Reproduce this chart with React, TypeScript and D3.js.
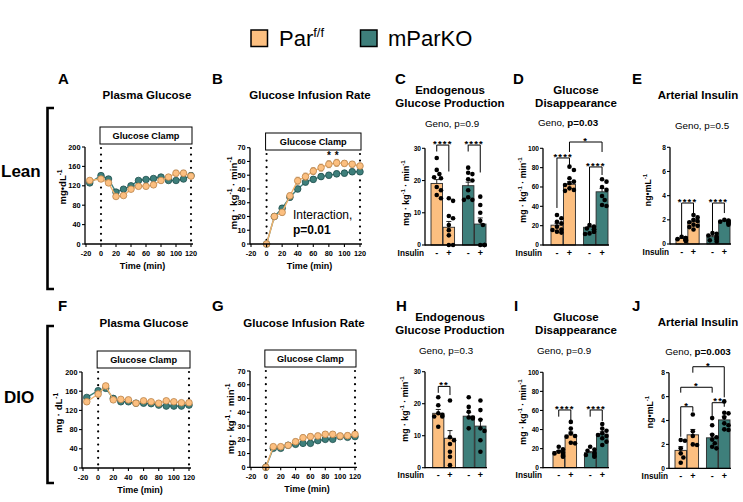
import React from 'react';
import { scaleLinear, scaleBand, line } from 'd3';

const PAR = '#FCBF80';
const KO = '#3E7F7B';
const PAR_EDGE = '#B9844B';
const KO_EDGE = '#1F4F4C';
const FONT = "'Liberation Sans', Arial, Helvetica, sans-serif";

// ---------- clamp time courses ----------
const glucoseTime = [-15, 0, 10, 20, 30, 40, 50, 60, 70, 80, 90, 100, 110, 120];
const leanGlucosePar = [131, 134, 126, 98, 100, 113, 119, 119, 122, 131, 138, 146, 146, 140];
const leanGlucoseParSem = [5, 4, 5, 4, 4, 4, 5, 5, 4, 5, 5, 6, 6, 5];
const leanGlucoseKO = [126, 141, 134, 107, 113, 120, 131, 133, 135, 138, 131, 131, 134, 141];
const leanGlucoseKOSem = [4, 4, 5, 4, 4, 4, 3, 4, 4, 4, 4, 4, 4, 5];
const dioGlucosePar = [138, 154, 171, 142, 143, 142, 135, 140, 138, 135, 140, 138, 136, 136];
const dioGlucoseParSem = [5, 6, 5, 4, 4, 5, 4, 4, 4, 4, 4, 4, 4, 4];
const dioGlucoseKO = [147, 161, 166, 145, 138, 138, 135, 135, 134, 131, 129, 129, 129, 131];
const dioGlucoseKOSem = [4, 5, 5, 4, 3, 3, 3, 3, 3, 3, 3, 3, 3, 3];

const girTime = [0, 10, 20, 30, 40, 50, 60, 70, 80, 90, 100, 110, 120];
const leanGirPar = [0, 20, 23, 35, 46, 49, 53, 55.5, 58, 59, 58.6, 58, 56.7];
const leanGirParSem = [0, 1.5, 2, 2, 2.5, 2.5, 2.5, 2.5, 2.5, 2.5, 2, 2, 2];
const leanGirKO = [0, 20, 26, 34, 40, 45, 47, 49, 50, 51, 51.5, 52.5, 52.5];
const leanGirKOSem = [0, 1.5, 2, 2, 2, 2, 2, 2, 2, 2, 2, 2, 2];
const dioGirPar = [0, 15, 15, 16, 18.6, 21.5, 22.3, 22.8, 24, 24, 22.8, 23, 24];
const dioGirParSem = [0, 1.5, 1.5, 1.5, 2, 2, 2, 2, 2, 2, 2, 2, 2];
const dioGirKO = [0, 13.8, 13.8, 16, 16.7, 17.4, 17.4, 19.4, 20.3, 20.3, 22.3, 21.8, 22.3];
const dioGirKOSem = [0, 1.5, 1.5, 1.5, 1.5, 1.5, 1.5, 1.5, 1.5, 1.5, 1.5, 1.5, 1.5];
const leanGirStars = [80, 90]; // time points marked *

const timeTicks = [-20, 0, 20, 40, 60, 80, 100, 120];
const glucoseTicks = [0, 40, 80, 120, 160, 200];
const girTicks = [0, 10, 20, 30, 40, 50, 60, 70];

// ---------- bar panels: order Par -, Par +, mParKO -, mParKO + ----------
const insulinSigns = ['-', '+', '-', '+'];

const leanEgpMean = [19.1, 5.5, 18.4, 6.5];
const leanEgpSem = [1.2, 1.8, 1.1, 1.9];
const leanEgpDots = [
  [27, 23.3, 22, 21, 20.7, 18, 17, 15.5, 14.5],
  [14.5, 13.7, 9, 8.3, 6.2, 4.6, 3, 0, 0],
  [24, 22.4, 22, 20.4, 20, 17, 14.8, 14, 14],
  [15, 12.4, 10, 7.5, 6.2, 0, 0, 0, 0],
];
const leanEgpSig = [
  { a: 0, b: 1, y: 31, ya: 29, yb: 22.8, t: '****' },
  { a: 2, b: 3, y: 31, ya: 29, yb: 22.5, t: '****' },
];

const leanRdMean = [20.5, 62.8, 18.3, 55];
const leanRdSem = [2, 2.6, 1, 3.5];
const leanRdDots = [
  [31, 27.6, 24, 22.4, 19, 16, 15.5, 13.8, 12.8],
  [81, 77.6, 69, 65.5, 63.8, 62, 58.6, 57, 56],
  [20.7, 19, 17, 16, 16, 13.8, 13.8, 12, 11.4],
  [68, 65.5, 60, 57, 50.7, 46.6, 41.4, 40.3],
];
const leanRdSig = [
  { a: 0, b: 1, y: 90, ya: 38.3, yb: 82.7, t: '****' },
  { a: 2, b: 3, y: 80.7, ya: 22.7, yb: 72.4, t: '****' },
  { a: 1, b: 3, y: 106.5, ya: 96.2, yb: 96.2, t: '*' },
];

const leanInsMean = [0.45, 1.85, 0.6, 1.9];
const leanInsSem = [0.04, 0.13, 0.09, 0.05];
const leanInsDots = [
  [0.6, 0.5, 0.5, 0.4, 0.4, 0.35, 0.3, 0.3, 0.25],
  [2.4, 2.2, 2.0, 1.9, 1.8, 1.6, 1.5, 1.4, 1.2],
  [0.9, 0.85, 0.7, 0.6, 0.5, 0.4, 0.3, 0.2],
  [2.0, 1.95, 1.9, 1.85, 1.8, 1.7, 1.6],
];
const leanInsSig = [
  { a: 0, b: 1, y: 3.39, ya: 0.6, yb: 2.56, t: '****' },
  { a: 2, b: 3, y: 3.39, ya: 1.0, yb: 2.56, t: '****' },
];

const dioEgpMean = [17, 9.2, 16.1, 13];
const dioEgpSem = [1.2, 2.4, 1.2, 2.1];
const dioEgpDots = [
  [22, 19.5, 17, 16.5, 16, 16, 12.8],
  [21, 9.5, 8.6, 7.4, 5, 3.4, 0.8],
  [22, 19, 17.5, 15.7, 15.7, 15.4, 12.3],
  [21, 18, 15, 12.3, 11.5, 8.6, 5],
];
const dioEgpSig = [{ a: 0, b: 1, y: 25.4, ya: 23.4, yb: 22.7, t: '**' }];

const dioRdMean = [16.8, 34.3, 15.7, 35.3];
const dioRdSem = [1.2, 3, 1.1, 2.3];
const dioRdDots = [
  [22, 19.2, 16.8, 15.7, 15, 13.3, 12.2, 11.5],
  [48, 41, 36, 33.2, 32.5, 26.2, 25.5],
  [22, 19, 17.8, 15.7, 14.3, 13.3, 12.2, 11.5],
  [45.8, 41, 38.8, 36, 34.3, 33.2, 30.8, 27.3, 23.8],
];
const dioRdSig = [
  { a: 0, b: 1, y: 60.5, ya: 53.5, yb: 50, t: '****' },
  { a: 2, b: 3, y: 60.5, ya: 53.5, yb: 49, t: '****' },
];

const dioInsMean = [1.5, 2.8, 2.55, 4.05];
const dioInsSem = [0.3, 0.45, 0.3, 0.3];
const dioInsDots = [
  [2.37, 2.3, 1.67, 1.25, 0.9, 0.47],
  [4.5, 3.1, 2.7, 2.0, 1.95],
  [4.2, 3.6, 2.8, 2.6, 2.4, 2.1, 1.8, 1.67],
  [5.6, 4.65, 4.6, 4.26, 3.76, 3.6, 3.26, 3.2],
];
const dioInsSig = [
  { a: 0, b: 1, y: 5.15, ya: 2.64, yb: 4.74, t: '*' },
  { a: 2, b: 3, y: 5.49, ya: 4.38, yb: 5.15, t: '**' },
  { a: 0, b: 2, y: 6.78, ya: 6.33, yb: 6.33, t: '*' },
  { a: 1, b: 3, y: 8.5, ya: 8.0, yb: 5.94, t: '*' },
];

const egpTicks = [0, 10, 20, 30];
const rdTicks = [0, 20, 40, 60, 80, 100];
const insTicks = [0, 2, 4, 6, 8];

type Seg = { t: string; sup?: boolean; bold?: boolean };

const unitGlcLean: Seg[] = [{ t: 'mg•dL' }, { t: '-1', sup: true }];
const unitGlcDio: Seg[] = [{ t: 'mg · dL' }, { t: '-1', sup: true }];
const unitRate: Seg[] = [{ t: 'mg · kg' }, { t: '-1', sup: true }, { t: ' · min' }, { t: '-1', sup: true }];
const unitIns: Seg[] = [{ t: 'ng•mL' }, { t: '-1', sup: true }];

const Rich = ({ segs, size }: { segs: Seg[]; size: number }) => {
  let up = false;
  return (
    <>
      {segs.map((s, i) => {
        let dy = 0;
        if (s.sup && !up) {
          dy = -size * 0.42;
          up = true;
        } else if (!s.sup && up) {
          dy = size * 0.42;
          up = false;
        }
        return (
          <tspan key={i} dy={dy || undefined} fontSize={s.sup ? size * 0.68 : size} fontWeight={s.bold ? 700 : undefined}>
            {s.t}
          </tspan>
        );
      })}
    </>
  );
};

const YLabel = ({ x, cy, segs, size }: any) => (
  <text
    transform={`translate(${x + size * 0.36},${cy}) rotate(-90)`}
    textAnchor="middle"
    fontWeight={700}
    fontSize={size}
    fontFamily={FONT}
  >
    <Rich segs={segs} size={size} />
  </text>
);

// spread dots sideways so they do not sit on top of each other
function swarm(values: number[], y: (v: number) => number, cx: number, r: number, maxOff: number) {
  const placed: { x: number; y: number }[] = [];
  const out: { x: number; y: number }[] = new Array(values.length);
  const order = values.map((v, i) => ({ v, i })).sort((p, q) => q.v - p.v);
  for (const { v, i } of order) {
    const py = y(v);
    let px = cx;
    for (let n = 0; n < 12; n++) {
      const off = n === 0 ? 0 : Math.ceil(n / 2) * r * 1.15 * (n % 2 ? 1 : -1);
      const cand = cx + Math.max(-maxOff, Math.min(maxOff, off));
      px = cand;
      if (placed.every((p) => Math.hypot(p.x - cand, p.y - py) >= r * 1.9)) break;
    }
    placed.push({ x: px, y: py });
    out[i] = { x: px, y: py };
  }
  return out;
}

const LinePanel = (p: any) => {
  const x = scaleLinear().domain([-20, 120]).range(p.xr);
  const y = scaleLinear().domain([0, p.yMax]).range(p.yr);
  const ax = x(-20) - 1;
  const yb = y(0);
  const boxX0 = x(0) - 1;
  const boxX1 = x(120) + 1;
  return (
    <g fontFamily={FONT}>
      <text x={p.letterX} y={p.letterY} fontSize={15} fontWeight={700}>{p.letter}</text>
      <text x={p.titleCx} y={p.titleY} fontSize={11.5} fontWeight={700} textAnchor="middle">{p.title}</text>
      <rect x={boxX0} y={p.boxY} width={boxX1 - boxX0} height={17} fill="#fff" stroke="#000" strokeWidth={1} />
      <text x={(boxX0 + boxX1) / 2} y={p.boxY + 12} fontSize={9.2} fontWeight={700} textAnchor="middle">Glucose Clamp</text>
      {[0, 120].map((t) => (
        <line key={t} x1={x(t)} x2={x(t)} y1={p.boxY + 21} y2={yb} stroke="#000" strokeWidth={2.2} strokeDasharray="0 6.6" strokeLinecap="round" />
      ))}
      {p.series.map((s: any, si: number) => {
        const path = line<number>()
          .x((_, i) => x(s.time[i]))
          .y((d) => y(d))(s.values);
        return (
          <g key={si}>
            <path d={path || ''} fill="none" stroke={s.lineColor} strokeWidth={1.4} />
            {s.values.map((v: number, i: number) => (
              <g key={i} stroke={s.edge} strokeWidth={0.8}>
                <line x1={x(s.time[i])} x2={x(s.time[i])} y1={y(v - s.sem[i])} y2={y(v + s.sem[i])} />
                <line x1={x(s.time[i]) - 2} x2={x(s.time[i]) + 2} y1={y(v + s.sem[i])} y2={y(v + s.sem[i])} />
                <line x1={x(s.time[i]) - 2} x2={x(s.time[i]) + 2} y1={y(v - s.sem[i])} y2={y(v - s.sem[i])} />
              </g>
            ))}
            {s.values.map((v: number, i: number) => (
              <circle key={'c' + i} cx={x(s.time[i])} cy={y(v)} r={3.3} fill={s.fill} stroke={s.edge} strokeWidth={0.8} />
            ))}
          </g>
        );
      })}
      {(p.stars || []).map((t: number) => (
        <text key={'st' + t} x={x(t)} y={p.starY} fontSize={10} fontWeight={700} textAnchor="middle">*</text>
      ))}
      {/* axes */}
      <line x1={ax} x2={ax} y1={yb + 0.6} y2={y(p.yMax)} stroke="#000" strokeWidth={1.3} />
      {p.yTicks.map((t: number) => (
        <g key={t}>
          <line x1={ax - 3} x2={ax} y1={y(t)} y2={y(t)} stroke="#000" strokeWidth={1.1} />
          <text x={ax - 4.5} y={y(t) + 2.6} fontSize={7.3} fontWeight={700} textAnchor="end">{t}</text>
        </g>
      ))}
      <line x1={ax} x2={x(120) + 2} y1={yb} y2={yb} stroke="#000" strokeWidth={1.3} />
      {timeTicks.map((t) => (
        <g key={t}>
          <line x1={x(t)} x2={x(t)} y1={yb} y2={yb + 3} stroke="#000" strokeWidth={1.1} />
          <text x={x(t)} y={yb + 11.5} fontSize={7.3} fontWeight={700} textAnchor="middle">{t}</text>
        </g>
      ))}
      <text x={(x(-20) + x(120)) / 2 + 4} y={yb + 25} fontSize={9} fontWeight={700} textAnchor="middle">Time (min)</text>
      <YLabel x={p.ylx} cy={p.lyc} segs={p.unit} size={p.unitSize} />
      {p.children}
    </g>
  );
};

const BarPanel = (p: any) => {
  const y = scaleLinear().domain([0, p.yMax]).range(p.yr);
  const outer = scaleBand<number>().domain([0, 1]).range(p.br).paddingInner(0.25);
  const inner = scaleBand<number>().domain([0, 1]).range([0, outer.bandwidth()]).paddingInner(0.05);
  const bx = (i: number) => (outer(i >> 1) as number) + (inner(i & 1) as number);
  const bw = inner.bandwidth();
  const cx = (i: number) => bx(i) + bw / 2;
  const colors = [PAR, PAR, KO, KO];
  const yb = y(0);
  const ax = p.axisX;
  return (
    <g fontFamily={FONT}>
      <text x={p.letterX} y={p.letterY} fontSize={15} fontWeight={700}>{p.letter}</text>
      {p.title.map((t: string, i: number) => (
        <text key={i} x={p.titleCx} y={p.titleY + i * 13} fontSize={11.5} fontWeight={700} textAnchor="middle">{t}</text>
      ))}
      <text x={p.genoCx} y={p.genoY} fontSize={9.8} textAnchor="middle">
        <Rich segs={p.geno} size={9.8} />
      </text>
      {p.mean.map((m: number, i: number) => (
        <rect key={i} x={bx(i)} y={y(m)} width={bw} height={yb - y(m)} fill={colors[i]} stroke="#2a2a2a" strokeWidth={0.9} />
      ))}
      {p.mean.map((m: number, i: number) => (
        <g key={'e' + i} stroke="#111" strokeWidth={0.9}>
          <line x1={cx(i)} x2={cx(i)} y1={y(m)} y2={y(m + p.sem[i])} />
          <line x1={cx(i) - 2.5} x2={cx(i) + 2.5} y1={y(m + p.sem[i])} y2={y(m + p.sem[i])} />
        </g>
      ))}
      {p.dots.map((vals: number[], i: number) =>
        swarm(vals, (v) => y(v), cx(i), 2.3, bw / 2 - 1.5).map((d, k) => (
          <circle key={i + '-' + k} cx={d.x} cy={d.y} r={2.3} fill="#000" />
        ))
      )}
      <line x1={ax} x2={ax} y1={yb + 0.6} y2={y(p.yMax)} stroke="#000" strokeWidth={1.3} />
      {p.yTicks.map((t: number) => (
        <g key={t}>
          <line x1={ax - 3} x2={ax} y1={y(t)} y2={y(t)} stroke="#000" strokeWidth={1.1} />
          <text x={ax - 4} y={y(t) + 2.3} fontSize={6.6} fontWeight={700} textAnchor="end">{t}</text>
        </g>
      ))}
      <line x1={ax} x2={p.br[1] + 1} y1={yb} y2={yb} stroke="#000" strokeWidth={1.3} />
      <text x={ax - 1} y={yb + 10.5} fontSize={8.2} fontWeight={700} textAnchor="end">Insulin</text>
      {insulinSigns.map((s, i) => (
        <text key={i} x={cx(i)} y={yb + 10.5} fontSize={9} fontWeight={700} textAnchor="middle">{s}</text>
      ))}
      {p.sig.map((s: any, i: number) => (
        <g key={'s' + i}>
          <path
            d={`M${cx(s.a)},${y(s.ya)}V${y(s.y)}H${cx(s.b)}V${y(s.yb)}`}
            fill="none"
            stroke="#000"
            strokeWidth={1}
          />
          <text x={(cx(s.a) + cx(s.b)) / 2} y={y(s.y) + 1.8} fontSize={9.5} fontWeight={700} textAnchor="middle" letterSpacing={1.2}>
            {s.t}
          </text>
        </g>
      ))}
      <YLabel x={p.ylx} cy={p.lyc} segs={p.unit} size={8.8} />
    </g>
  );
};

const parSeries = (time: number[], values: number[], sem: number[]) => ({ time, values, sem, fill: PAR, edge: PAR_EDGE, lineColor: '#F2B26C' });
const koSeries = (time: number[], values: number[], sem: number[]) => ({ time, values, sem, fill: KO, edge: KO_EDGE, lineColor: KO });

const DY = 227;

export default function App() {
  return (
    <svg width={743} height={502} style={{ position: 'absolute', left: 0, top: 0, background: '#fff' }} fontFamily={FONT}>
      {/* legend */}
      <rect x={251} y={30} width={16.5} height={16.5} fill={PAR} stroke="#000" strokeWidth={1.5} />
      <text x={279} y={46} fontSize={22}>
        Par
        <tspan dy={-9} fontSize={13}>f/f</tspan>
      </text>
      <rect x={360.5} y={30} width={16.5} height={16.5} fill={KO} stroke="#000" strokeWidth={1.5} />
      <text x={388} y={46} fontSize={22}>mParKO</text>

      {/* row brackets */}
      <path d="M54,108H47.5V289H54" fill="none" stroke="#000" strokeWidth={2.6} />
      <text x={1} y={177} fontSize={17} fontWeight={700}>Lean</text>
      <path d="M54,326H47.5V483H54" fill="none" stroke="#000" strokeWidth={2.6} />
      <text x={4} y={403} fontSize={17} fontWeight={700}>DIO</text>

      {/* A */}
      <LinePanel
        letter="A" letterX={58} letterY={84}
        title="Plasma Glucose" titleCx={147} titleY={99}
        xr={[86, 191]} yr={[244, 147]} yMax={200} yTicks={glucoseTicks} boxY={127}
        unit={unitGlcLean} unitSize={9.5} ylx={63} lyc={187}
        series={[koSeries(glucoseTime, leanGlucoseKO, leanGlucoseKOSem), parSeries(glucoseTime, leanGlucosePar, leanGlucoseParSem)]}
      />
      {/* B */}
      <LinePanel
        letter="B" letterX={212} letterY={84}
        title="Glucose Infusion Rate" titleCx={310} titleY={99}
        xr={[251, 360]} yr={[244, 147.7]} yMax={70} yTicks={girTicks} boxY={133}
        unit={unitRate} unitSize={9.8} ylx={233} lyc={193}
        stars={leanGirStars} starY={159}
        series={[koSeries(girTime, leanGirKO, leanGirKOSem), parSeries(girTime, leanGirPar, leanGirParSem)]}
      >
        <text x={293} y={219} fontSize={12}>Interaction,</text>
        <text x={293} y={234} fontSize={12} fontWeight={700}>p=0.01</text>
      </LinePanel>
      {/* C */}
      <BarPanel
        letter="C" letterX={395} letterY={84}
        title={['Endogenous', 'Glucose Production']} titleCx={450} titleY={94}
        geno={[{ t: 'Geno, p=0.9' }]} genoCx={452} genoY={127}
        axisX={425} yr={[245, 148.3]} yMax={30} yTicks={egpTicks} br={[431, 486]}
        mean={leanEgpMean} sem={leanEgpSem} dots={leanEgpDots} sig={leanEgpSig}
        unit={unitRate} ylx={406} lyc={193}
      />
      {/* D */}
      <BarPanel
        letter="D" letterX={513} letterY={84}
        title={['Glucose', 'Disappearance']} titleCx={576} titleY={94}
        geno={[{ t: 'Geno, ' }, { t: 'p=0.03', bold: true }]} genoCx={568} genoY={126}
        axisX={543} yr={[245, 148.3]} yMax={100} yTicks={rdTicks} br={[551, 608]}
        mean={leanRdMean} sem={leanRdSem} dots={leanRdDots} sig={leanRdSig}
        unit={unitRate} ylx={523} lyc={190}
      />
      {/* E */}
      <BarPanel
        letter="E" letterX={632} letterY={84}
        title={['Arterial Insulin']} titleCx={698} titleY={99}
        geno={[{ t: 'Geno, p=0.5' }]} genoCx={702} genoY={129}
        axisX={670} yr={[244, 147.3]} yMax={8} yTicks={insTicks} br={[676, 730]}
        mean={leanInsMean} sem={leanInsSem} dots={leanInsDots} sig={leanInsSig}
        unit={unitIns} ylx={648} lyc={190}
      />

      {/* F */}
      <LinePanel
        letter="F" letterX={58} letterY={84 + DY}
        title="Plasma Glucose" titleCx={144} titleY={99 + DY + 1}
        xr={[83, 189]} yr={[468, 372]} yMax={200} yTicks={glucoseTicks} boxY={351}
        unit={unitGlcDio} unitSize={9.5} ylx={59} lyc={413}
        series={[koSeries(glucoseTime, dioGlucoseKO, dioGlucoseKOSem), parSeries(glucoseTime, dioGlucosePar, dioGlucoseParSem)]}
      />
      {/* G */}
      <LinePanel
        letter="G" letterX={212} letterY={84 + DY}
        title="Glucose Infusion Rate" titleCx={304} titleY={99 + DY + 1}
        xr={[251, 355]} yr={[467.3, 371]} yMax={70} yTicks={girTicks} boxY={350}
        unit={unitRate} unitSize={9.5} ylx={231} lyc={419}
        series={[koSeries(girTime, dioGirKO, dioGirKOSem), parSeries(girTime, dioGirPar, dioGirParSem)]}
      />
      {/* H */}
      <BarPanel
        letter="H" letterX={396} letterY={84 + DY}
        title={['Endogenous', 'Glucose Production']} titleCx={450} titleY={94 + DY}
        geno={[{ t: 'Geno, p=0.3' }]} genoCx={446} genoY={354}
        axisX={425} yr={[467.7, 371.7]} yMax={30} yTicks={egpTicks} br={[432.7, 486]}
        mean={dioEgpMean} sem={dioEgpSem} dots={dioEgpDots} sig={dioEgpSig}
        unit={unitRate} ylx={405} lyc={409}
      />
      {/* I */}
      <BarPanel
        letter="I" letterX={514} letterY={84 + DY}
        title={['Glucose', 'Disappearance']} titleCx={576} titleY={94 + DY}
        geno={[{ t: 'Geno, p=0.9' }]} genoCx={564} genoY={354}
        axisX={543} yr={[467.7, 372.3]} yMax={100} yTicks={rdTicks} br={[553, 608]}
        mean={dioRdMean} sem={dioRdSem} dots={dioRdDots} sig={dioRdSig}
        unit={unitRate} ylx={523} lyc={412}
      />
      {/* J */}
      <BarPanel
        letter="J" letterX={632} letterY={84 + DY}
        title={['Arterial Insulin']} titleCx={698} titleY={99 + DY}
        geno={[{ t: 'Geno, ' }, { t: 'p=0.003', bold: true }]} genoCx={698} genoY={355}
        axisX={669} yr={[468.3, 372.7]} yMax={8} yTicks={insTicks} br={[675, 730]}
        mean={dioInsMean} sem={dioInsSem} dots={dioInsDots} sig={dioInsSig}
        unit={unitIns} ylx={650} lyc={412}
      />
    </svg>
  );
}
